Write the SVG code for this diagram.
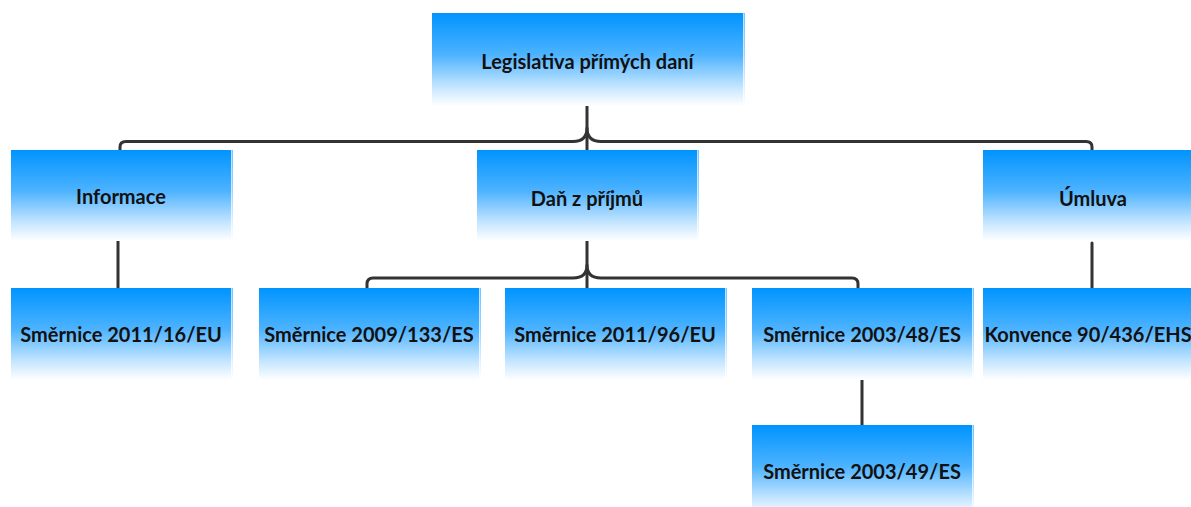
<svg xmlns="http://www.w3.org/2000/svg" width="1191" height="507" viewBox="0 0 1191 507">
<style>
.box{fill:url(#g)}
.edge{fill:url(#g);opacity:0.55}
.t{font-family:Lato,"Liberation Sans",sans-serif;font-weight:bold;font-size:20px;fill:#111;text-anchor:middle}
.c{fill:none;stroke:#333;stroke-width:3;stroke-linecap:round;stroke-linejoin:round}
</style>
<defs>
<linearGradient id="g" x1="0" y1="0" x2="0" y2="1">
<stop offset="0" stop-color="#0094ff"/>
<stop offset="0.45" stop-color="#4db3ff"/>
<stop offset="0.8" stop-color="#c6e6ff"/>
<stop offset="1" stop-color="#ffffff"/>
</linearGradient>
</defs>
<rect width="1191" height="507" fill="#fff"/>
<g id="connectors">
<path class="c" d="M587,106 V150"/>
<path class="c" d="M120,150 V147 Q120,141.5 126,141.5 H573 Q587,141.5 587,128 Q587,141.5 601,141.5 H1086 Q1092,141.5 1092,147 V150"/>
<path class="c" d="M587,241 V288"/>
<path class="c" d="M367,288 V284 Q367,278 373,278 H573 Q587,278 587,265 Q587,278 601,278 H852 Q858,278 858,284 V288"/>
<path class="c" d="M118,241 V288"/>
<path class="c" d="M1092,243 V289"/>
<path class="c" d="M862,378 V425"/>
</g>
<g id="n-root"><rect class="box" x="432" y="13" width="311" height="93"/><rect class="edge" x="743.5" y="13" width="1.5" height="93"/><text class="t" x="587.5" y="69">Legislativa přímých daní</text></g>
<g id="n-informace"><rect class="box" x="11" y="150" width="220" height="91"/><rect class="edge" x="231.5" y="150" width="1.5" height="91"/><text class="t" x="121" y="204">Informace</text></g>
<g id="n-dan"><rect class="box" x="477" y="150" width="220" height="91"/><rect class="edge" x="697.5" y="150" width="1.5" height="91"/><text class="t" x="587" y="206">Daň z příjmů</text></g>
<g id="n-umluva"><rect class="box" x="983" y="150" width="220" height="91"/><text class="t" x="1093" y="206">Úmluva</text></g>
<g id="n-2011-16"><rect class="box" x="11" y="288" width="220" height="92"/><rect class="edge" x="231.5" y="288" width="1.5" height="92"/><text class="t" x="121" y="342">Směrnice 2011/16/EU</text></g>
<g id="n-2009-133"><rect class="box" x="259" y="288" width="220" height="92"/><rect class="edge" x="479.5" y="288" width="1.5" height="92"/><text class="t" x="369" y="342">Směrnice 2009/133/ES</text></g>
<g id="n-2011-96"><rect class="box" x="505" y="288" width="220" height="92"/><rect class="edge" x="725.5" y="288" width="1.5" height="92"/><text class="t" x="615" y="342">Směrnice 2011/96/EU</text></g>
<g id="n-2003-48"><rect class="box" x="752" y="288" width="220" height="92"/><rect class="edge" x="972.5" y="288" width="1.5" height="92"/><text class="t" x="862" y="342">Směrnice 2003/48/ES</text></g>
<g id="n-konvence"><rect class="box" x="983" y="288" width="220" height="92"/><text class="t" x="1088" y="342" font-size="19.5">Konvence 90/436/EHS</text></g>
<g id="n-2003-49"><rect class="box" x="752" y="425" width="220" height="92"/><rect class="edge" x="972.5" y="425" width="1.5" height="92"/><text class="t" x="862" y="479">Směrnice 2003/49/ES</text></g>
</svg>
